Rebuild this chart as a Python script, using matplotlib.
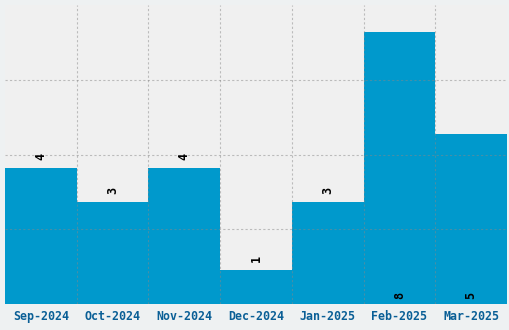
import matplotlib
matplotlib.use("Agg")
from matplotlib import pyplot as plt

months = ["Sep-2024", "Oct-2024", "Nov-2024", "Dec-2024", "Jan-2025", "Feb-2025", "Mar-2025"]
counts = [4, 3, 4, 1, 3, 8, 5]

ymax = 8.8
bar_col = "#0099cc"

fig = plt.figure(figsize=(5.1, 3.3), dpi=100, facecolor="#eef1f2")
ax = fig.add_axes([5/510, 26/330, 502/510, 299/330])
ax.set_facecolor("#f0f0f0")

x = list(range(len(months)))
ax.bar(x, counts, width=1.0, color=bar_col, zorder=1)
ax.set_xlim(-0.5, len(months) - 0.5)
ax.set_ylim(0, ymax)

# grid on top of bars
for b in range(1, len(months)):
  ax.axvline(b - 0.5, color="#888888", ls=(0, (2, 2)), lw=0.8, alpha=0.5, zorder=2)
for g in [2.2, 4.4, 6.6]:
  ax.axhline(g, color="#888888", ls=(0, (2, 2)), lw=0.8, alpha=0.5, zorder=2)

for i, v in enumerate(counts):
  y = 0.15 if v >= 5 else v + 0.25
  ax.text(i, y, str(v), rotation=90, ha="center", va="bottom",
          family="DejaVu Sans Mono", fontweight="bold", fontsize=8.5,
          color="black", zorder=3)

ax.set_xticks(x)
ax.set_xticklabels(months, family="DejaVu Sans Mono", fontweight="bold",
                   fontsize=8.4, color="#0a5f96")
ax.tick_params(axis="x", length=0, pad=4)
ax.set_yticks([])
for s in ax.spines.values():
  s.set_visible(False)

fig.savefig("out.png", dpi=100, facecolor=fig.get_facecolor())
